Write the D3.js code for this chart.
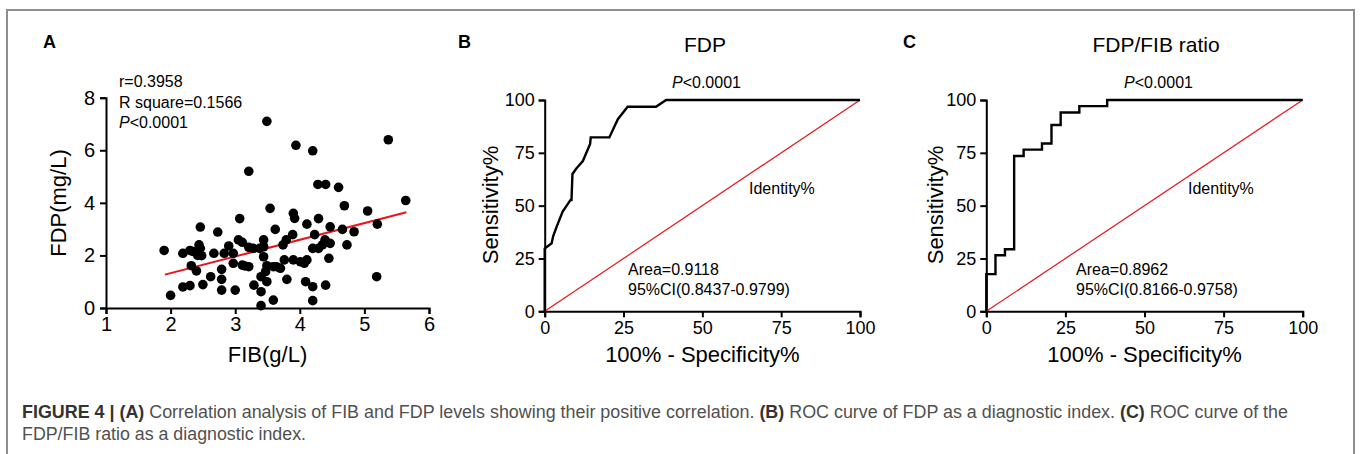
<!DOCTYPE html>
<html>
<head>
<meta charset="utf-8">
<script src="https://cdn.jsdelivr.net/npm/d3@7"></script>
<style>
  html, body { margin: 0; padding: 0; background: #fff; }
  svg { display: block; font-family: "Liberation Sans", Arial, sans-serif; }
</style>
</head>
<body>
<svg id="chart" width="1360" height="454"></svg>
<script>
// Panel A: FIB vs FDP scatter
const fibValues = [1.90, 2.00, 2.19, 2.30, 2.19, 2.30, 2.32, 2.40, 2.46, 2.46, 2.42, 2.48, 2.50, 2.62, 2.67,
  2.73, 2.79, 2.79, 2.79, 2.83, 2.90, 2.97, 3.00, 2.97, 3.07, 3.05, 3.11, 3.11, 3.21, 3.21,
  3.21, 3.28, 3.29, 3.38, 3.40, 3.40, 3.40, 3.44, 3.44, 3.44, 3.47, 3.49, 3.49, 3.49, 3.54,
  3.59, 3.59, 3.62, 3.64, 3.70, 3.76, 3.74, 3.79, 3.80, 3.89, 3.90, 3.92, 3.90, 3.94, 4.01,
  4.07, 4.09, 4.11, 4.11, 4.20, 4.20, 4.20, 4.20, 4.23, 4.28, 4.29, 4.29, 4.35, 4.40, 4.39,
  4.40, 4.45, 4.47, 4.47, 4.60, 4.66, 4.69, 4.73, 4.84, 5.05, 5.19, 5.20, 5.37, 5.64,
  2.44, 3.15, 2.35];
const fdpValues = [2.19, 0.48, 2.08, 2.19, 0.80, 0.85, 1.61, 1.41, 3.08, 2.27, 2.00, 1.99, 0.89, 1.19, 2.08,
  2.89, 1.47, 1.09, 0.68, 2.08, 2.36, 2.08, 0.68, 1.70, 3.40, 2.59, 2.50, 1.63, 1.57, 5.20,
  2.31, 2.27, 0.87, 2.27, 1.19, 0.62, 0.09, 2.59, 2.33, 1.95, 1.38, 7.10, 1.61, 1.00, 3.79,
  1.57, 0.30, 2.99, 1.57, 1.51, 1.83, 2.40, 2.59, 1.09, 2.79, 3.60, 3.41, 1.83, 6.19, 1.76,
  1.70, 1.00, 1.83, 3.19, 5.98, 2.27, 0.81, 0.28, 2.79, 4.70, 3.40, 2.27, 2.40, 4.70, 2.59,
  0.87, 1.89, 2.46, 3.09, 4.59, 2.99, 3.89, 2.40, 2.90, 3.69, 1.19, 3.19, 6.40, 4.09,
  2.40, 1.60, 2.15];
// fitted line end points
const fitFib = [1.91, 5.65];
const fitFdp = [1.27, 3.64];
const xTicksA = [1, 2, 3, 4, 5, 6];
const yTicksA = [0, 2, 4, 6, 8];
const statsA = ["r=0.3958", "R square=0.1566", "<0.0001"];

// Panel B: ROC of FDP
const fdpFpr = [0, 0, 2.2, 2.7, 3.8, 5.7, 8.2, 8.5, 8.8, 10.1, 12.1, 14.4, 14.6, 20.5, 23.2, 26.3, 35.3, 38.5, 100];
const fdpTpr = [0, 29.7, 32.2, 35.6, 40.1, 47.2, 52.7, 52.7, 65.0, 67.7, 71.1, 79.2, 82.3, 82.3, 90.9, 96.8, 96.8, 100, 100];

// Panel C: ROC of FDP/FIB ratio
const ratioFpr = [0, 0, 2.9, 2.9, 5.9, 5.9, 8.8, 8.8, 11.8, 11.8, 17.6, 17.6, 20.6, 20.6, 23.5, 23.5, 29.4, 29.4, 38.2, 38.2, 100];
const ratioTpr = [0, 17.6, 17.6, 26.5, 26.5, 29.4, 29.4, 73.5, 73.5, 76.5, 76.5, 79.4, 79.4, 88.2, 88.2, 94.1, 94.1, 97.1, 97.1, 100, 100];

const rocTicks = [0, 25, 50, 75, 100];

const svg = d3.select("#chart");

// figure frame (bottom edge runs off the picture)
svg.append("rect")
  .attr("x", 7)
  .attr("y", 10)
  .attr("width", 1347)
  .attr("height", 520)
  .attr("fill", "none")
  .attr("stroke", "#8e8e8e")
  .attr("stroke-width", 2);

function styleAxis(g, fontSize) {
  g.select(".domain").attr("stroke", "#000").attr("stroke-width", 2);
  g.selectAll(".tick line").attr("stroke", "#000").attr("stroke-width", 2);
  g.selectAll(".tick text")
    .attr("fill", "#000")
    .style("font-size", fontSize + "px")
    .style("font-family", "'Liberation Sans', Arial, sans-serif");
}

function panelLabel(x, txt) {
  svg.append("text")
    .attr("x", x)
    .attr("y", 48)
    .style("font-size", "18px")
    .style("font-weight", "bold")
    .text(txt);
}

// ---------- Panel A ----------
panelLabel(43, "A");

const xA = d3.scaleLinear().domain([1, 6]).range([106, 429]);
const yA = d3.scaleLinear().domain([0, 8]).range([308, 97.7]);

svg.append("g")
  .attr("transform", "translate(0,308)")
  .call(d3.axisBottom(xA).tickValues(xTicksA).tickFormat(d3.format("d"))
    .tickSizeOuter(0).tickSize(6).tickPadding(3))
  .call(g => styleAxis(g, 20));

svg.append("g")
  .attr("transform", "translate(106,0)")
  .call(d3.axisLeft(yA).tickValues(yTicksA).tickFormat(d3.format("d"))
    .tickSizeOuter(0).tickSize(6).tickPadding(5))
  .call(g => styleAxis(g, 20));

svg.append("line")
  .attr("x1", xA(fitFib[0]))
  .attr("y1", yA(fitFdp[0]))
  .attr("x2", xA(fitFib[1]))
  .attr("y2", yA(fitFdp[1]))
  .attr("stroke", "#e8141b")
  .attr("stroke-width", 2);

svg.append("g")
  .selectAll("circle")
  .data(fibValues.map((d, i) => [d, fdpValues[i]]))
  .enter()
  .append("circle")
  .attr("cx", d => xA(d[0]))
  .attr("cy", d => yA(d[1]))
  .attr("r", 4.8)
  .attr("fill", "#000");

svg.append("text").attr("x", 119).attr("y", 87).style("font-size", "16px").text(statsA[0]);
svg.append("text").attr("x", 119).attr("y", 107.5).style("font-size", "16px").text(statsA[1]);
svg.append("text").attr("x", 119).attr("y", 128).style("font-size", "16px")
  .call(t => {
    t.append("tspan").style("font-style", "italic").text("P");
    t.append("tspan").text(statsA[2]);
  });

svg.append("text")
  .attr("x", 267.5)
  .attr("y", 362)
  .attr("text-anchor", "middle")
  .style("font-size", "22px")
  .text("FIB(g/L)");

svg.append("text")
  .attr("transform", "translate(66,203) rotate(-90)")
  .attr("text-anchor", "middle")
  .style("font-size", "22px")
  .text("FDP(mg/L)");

// ---------- ROC panels ----------
function rocPanel(opt) {
  const x = d3.scaleLinear().domain([0, 100]).range([opt.x0, opt.x1]);
  const y = d3.scaleLinear().domain([0, 100]).range([311.3, 100]);

  panelLabel(opt.labelX, opt.label);

  svg.append("text")
    .attr("x", opt.titleX)
    .attr("y", 52)
    .attr("text-anchor", "middle")
    .style("font-size", "21px")
    .text(opt.title);

  svg.append("g")
    .attr("transform", "translate(0,311.3)")
    .call(d3.axisBottom(x).tickValues(rocTicks).tickSizeOuter(0).tickSize(6).tickPadding(4))
    .call(g => styleAxis(g, 18));

  svg.append("g")
    .attr("transform", `translate(${opt.x0},0)`)
    .call(d3.axisLeft(y).tickValues(rocTicks).tickSizeOuter(0).tickSize(6).tickPadding(4))
    .call(g => styleAxis(g, 18));

  // identity line
  svg.append("line")
    .attr("x1", x(0)).attr("y1", y(0))
    .attr("x2", x(100)).attr("y2", y(100))
    .attr("stroke", "#e8141b")
    .attr("stroke-width", 1.2);

  const line = d3.line().x(d => x(d[0])).y(d => y(d[1]));
  svg.append("path")
    .datum(opt.fpr.map((d, i) => [d, opt.tpr[i]]))
    .attr("d", line)
    .attr("fill", "none")
    .attr("stroke", "#000")
    .attr("stroke-width", 2.4)
    .attr("stroke-linejoin", "miter");

  svg.append("text").attr("x", opt.pX).attr("y", 88).style("font-size", "16px")
    .call(t => {
      t.append("tspan").style("font-style", "italic").text("P");
      t.append("tspan").text("<0.0001");
    });

  svg.append("text").attr("x", opt.idX).attr("y", 194).style("font-size", "16px").text("Identity%");
  svg.append("text").attr("x", opt.areaX).attr("y", 275).style("font-size", "16px").text(opt.area);
  svg.append("text").attr("x", opt.areaX).attr("y", 295).style("font-size", "16px").text(opt.ci);

  svg.append("text")
    .attr("transform", `translate(${opt.yTitleX},205) rotate(-90)`)
    .attr("text-anchor", "middle")
    .style("font-size", "22px")
    .text("Sensitivity%");

  svg.append("text")
    .attr("x", (opt.x0 + opt.x1) / 2)
    .attr("y", 362)
    .attr("text-anchor", "middle")
    .style("font-size", "22px")
    .text("100% - Specificity%");
}

rocPanel({
  label: "B", labelX: 458, title: "FDP", titleX: 705,
  x0: 544.7, x1: 860, fpr: fdpFpr, tpr: fdpTpr,
  pX: 672, idX: 749, areaX: 628, yTitleX: 498,
  area: "Area=0.9118", ci: "95%CI(0.8437-0.9799)"
});

rocPanel({
  label: "C", labelX: 903, title: "FDP/FIB ratio", titleX: 1156,
  x0: 986.3, x1: 1302.7, fpr: ratioFpr, tpr: ratioTpr,
  pX: 1124, idX: 1188, areaX: 1076, yTitleX: 943,
  area: "Area=0.8962", ci: "95%CI(0.8166-0.9758)"
});

// ---------- caption ----------
const cap1 = svg.append("text")
  .attr("x", 22)
  .attr("y", 418)
  .style("font-size", "17.5px")
  .attr("fill", "#505050");
[["FIGURE 4 | (A)", true],
 [" Correlation analysis of FIB and FDP levels showing their positive correlation. ", false],
 ["(B)", true],
 [" ROC curve of FDP as a diagnostic index. ", false],
 ["(C)", true],
 [" ROC curve of the", false]].forEach(([s, b]) => {
  cap1.append("tspan")
    .style("font-weight", b ? "bold" : "normal")
    .attr("fill", b ? "#333" : "#505050")
    .text(s);
});
cap1.attr("textLength", 1266).attr("lengthAdjust", "spacingAndGlyphs");

svg.append("text")
  .attr("x", 22)
  .attr("y", 440)
  .style("font-size", "17.5px")
  .attr("fill", "#505050")
  .attr("textLength", 284)
  .attr("lengthAdjust", "spacingAndGlyphs")
  .text("FDP/FIB ratio as a diagnostic index.");
</script>
</body>
</html>
